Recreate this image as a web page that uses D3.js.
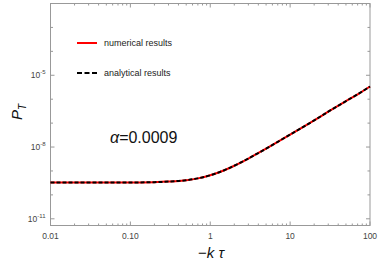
<!DOCTYPE html>
<html>
<head>
<meta charset="utf-8">
<script src="https://cdn.jsdelivr.net/npm/d3@7"></script>
<style>
  body { margin: 0; background: #fff; }
  text { font-family: "Liberation Sans", Arial, sans-serif; }
</style>
</head>
<body>
<div id="chart"></div>
<script>
// values: -k tau and P_T
const ktau = [0.01, 0.03, 0.1, 0.2, 0.3, 0.5, 0.7, 1, 1.5, 2, 3, 5, 7, 10, 20, 30, 50, 70, 100];
const numerical = [3.3e-10, 3.3e-10, 3.3e-10, 3.4e-10, 3.6e-10, 4.1e-10, 4.9e-10, 6.6e-10, 1.07e-9, 1.65e-9,
  3.3e-9, 8.6e-9, 1.65e-8, 3.3e-8, 1.3e-7, 3.0e-7, 8.3e-7, 1.6e-6, 3.4e-6];
const analytical = [3.3e-10, 3.3e-10, 3.3e-10, 3.4e-10, 3.6e-10, 4.1e-10, 4.9e-10, 6.6e-10, 1.07e-9, 1.65e-9,
  3.3e-9, 8.6e-9, 1.65e-8, 3.3e-8, 1.3e-7, 3.0e-7, 8.3e-7, 1.6e-6, 3.4e-6];
const xTicks = [0.01, 0.1, 1, 10, 100];
const xTickLabels = ["0.01", "0.10", "1", "10", "100"];
const yTicks = [1e-11, 1e-8, 1e-5];
const yTickExps = ["-11", "-8", "-5"];

const W = 379, H = 261;
const pLeft = 50.5, pRight = 370, pTop = 3.5, pBottom = 225.5;

const svg = d3.select("#chart").append("svg")
  .attr("width", W).attr("height", H);

const x = d3.scaleLog().domain([0.01, 100]).range([pLeft, pRight]);
const y = d3.scaleLog().domain([Math.pow(10, -11.28), 1e-2]).range([pBottom, pTop]);

const frameCol = "#999";

// frame
svg.append("rect")
  .attr("x", pLeft).attr("y", pTop)
  .attr("width", pRight - pLeft).attr("height", pBottom - pTop)
  .attr("fill", "none").attr("stroke", frameCol).attr("stroke-width", 1);

// x minor/major ticks (inward, bottom and top)
const xMinor = [];
for (let e = -2; e < 2; e++) for (let m = 2; m <= 9; m++) xMinor.push(m * Math.pow(10, e));
const tickG = svg.append("g").attr("stroke", frameCol).attr("stroke-width", 1);
xTicks.forEach(v => {
  tickG.append("line").attr("x1", x(v)).attr("x2", x(v)).attr("y1", pBottom).attr("y2", pBottom - 4);
  tickG.append("line").attr("x1", x(v)).attr("x2", x(v)).attr("y1", pTop).attr("y2", pTop + 4);
});
xMinor.forEach(v => {
  tickG.append("line").attr("x1", x(v)).attr("x2", x(v)).attr("y1", pBottom).attr("y2", pBottom - 2);
  tickG.append("line").attr("x1", x(v)).attr("x2", x(v)).attr("y1", pTop).attr("y2", pTop + 2);
});

// y ticks every decade (major labeled every 3)
for (let e = -11; e <= -2; e++) {
  const yy = y(Math.pow(10, e));
  const len = (e % 3 === -2) ? 4 : 2.5;
  tickG.append("line").attr("x1", pLeft).attr("x2", pLeft + len).attr("y1", yy).attr("y2", yy);
  tickG.append("line").attr("x1", pRight).attr("x2", pRight - len).attr("y1", yy).attr("y2", yy);
}

// x tick labels
svg.append("g").selectAll("text").data(xTicks).join("text")
  .attr("x", d => x(d)).attr("y", pBottom + 13)
  .attr("text-anchor", "middle")
  .attr("font-size", 8.5).attr("fill", "#444")
  .text((d, i) => xTickLabels[i]);

// y tick labels 10^n
const yl = svg.append("g").selectAll("text").data(yTicks).join("text")
  .attr("x", pLeft - 5).attr("y", d => y(d) + 3)
  .attr("text-anchor", "end")
  .attr("font-size", 8.5).attr("fill", "#444");
yl.append("tspan").text("10");
yl.append("tspan").attr("dy", -4).attr("font-size", 6).text((d, i) => yTickExps[i]);

// curves
const line = d3.line().x(d => x(d[0])).y(d => y(d[1])).curve(d3.curveMonotoneX);
svg.append("path")
  .datum(ktau.map((k, i) => [k, numerical[i]]))
  .attr("d", line).attr("fill", "none")
  .attr("stroke", "#ff0000").attr("stroke-width", 2);
svg.append("path")
  .datum(ktau.map((k, i) => [k, analytical[i]]))
  .attr("d", line).attr("fill", "none")
  .attr("stroke", "#000").attr("stroke-width", 2)
  .attr("stroke-dasharray", "4,2");

// legend
svg.append("line").attr("x1", 77).attr("x2", 97).attr("y1", 43).attr("y2", 43)
  .attr("stroke", "#ff0000").attr("stroke-width", 2);
svg.append("line").attr("x1", 77).attr("x2", 97).attr("y1", 73).attr("y2", 73)
  .attr("stroke", "#000").attr("stroke-width", 2).attr("stroke-dasharray", "5,2.5");
svg.append("text").attr("x", 104).attr("y", 46).attr("font-size", 9).attr("fill", "#222")
  .text("numerical results");
svg.append("text").attr("x", 104).attr("y", 76).attr("font-size", 9).attr("fill", "#222")
  .text("analytical results");

// alpha annotation
const at = svg.append("text").attr("x", 110).attr("y", 143).attr("font-size", 16).attr("fill", "#111");
at.append("tspan").attr("font-style", "italic").text("α");
at.append("tspan").text("=0.0009");

// axis titles
const yt = svg.append("text")
  .attr("transform", "translate(22,112) rotate(-90)")
  .attr("text-anchor", "middle").attr("font-size", 15).attr("fill", "#111");
yt.append("tspan").attr("font-style", "italic").text("P");
yt.append("tspan").attr("font-style", "italic").attr("font-size", 10).attr("dy", 4).text("T");

const xt = svg.append("text")
  .attr("x", 211).attr("y", 258)
  .attr("text-anchor", "middle").attr("font-size", 15).attr("fill", "#111");
xt.append("tspan").text("−");
xt.append("tspan").attr("font-style", "italic").text("k τ");
</script>
</body>
</html>
